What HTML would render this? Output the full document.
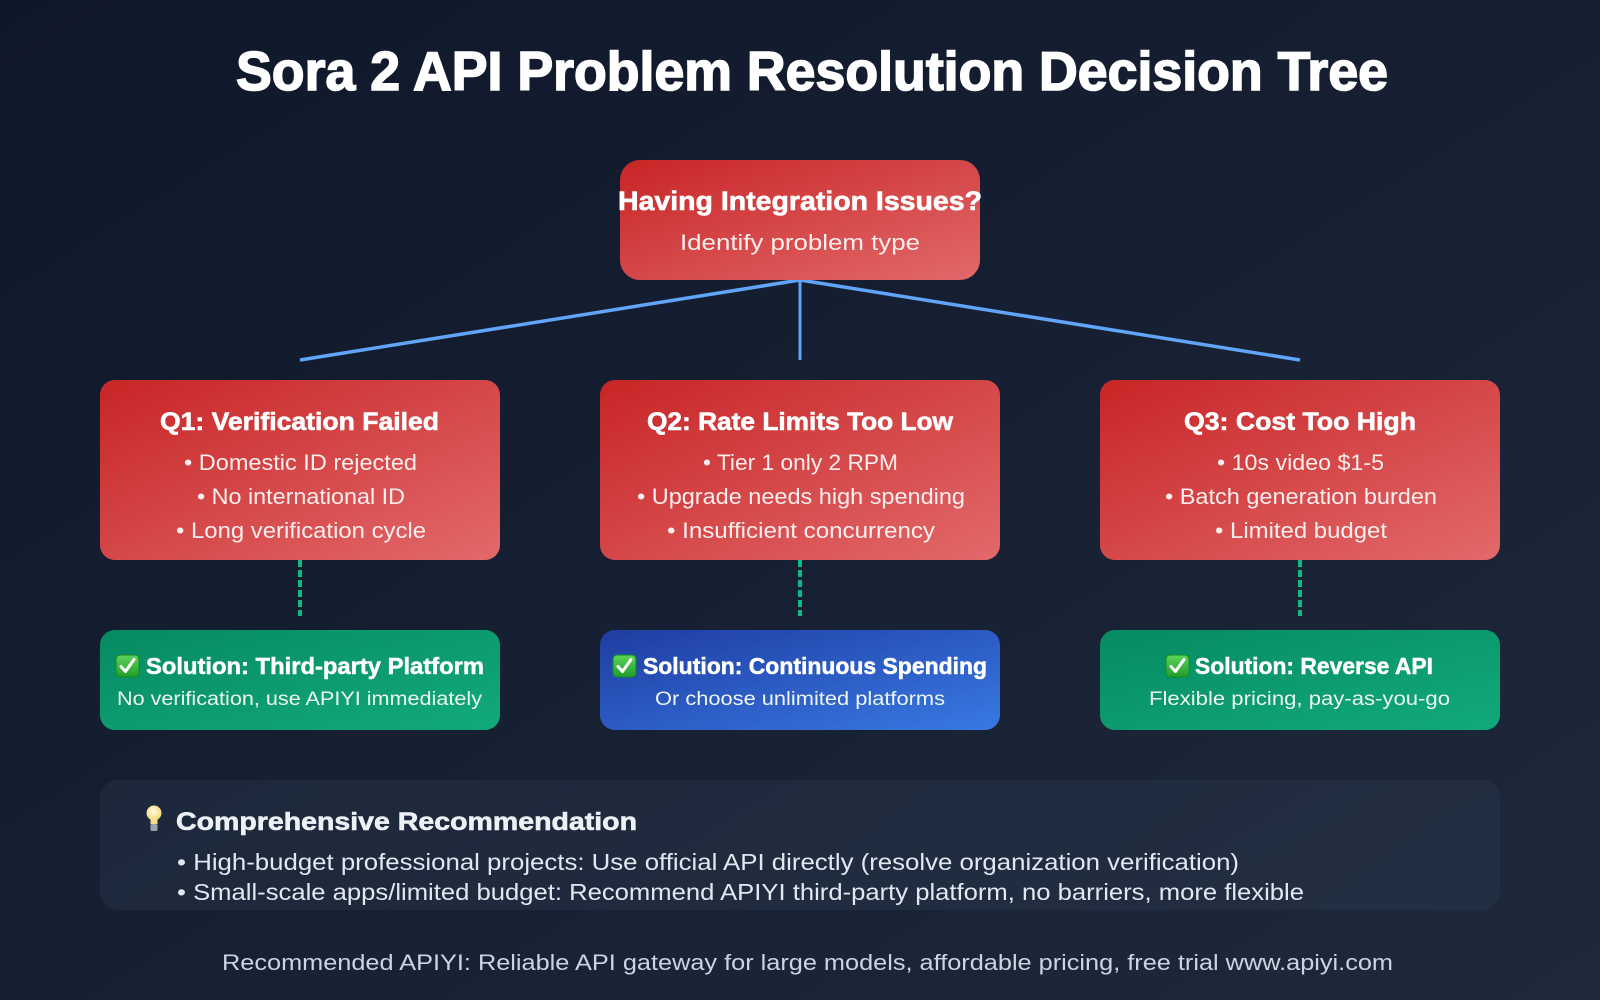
<!DOCTYPE html>
<html>
<head>
<meta charset="utf-8">
<style>
  html,body{margin:0;padding:0;background:#0f172a;}
  body{width:1600px;height:1000px;overflow:hidden;}
  svg{display:block;}
  text{font-family:"Liberation Sans","DejaVu Sans",sans-serif;}
</style>
</head>
<body>
<svg width="1600" height="1000" viewBox="0 0 1600 1000" xmlns="http://www.w3.org/2000/svg">
  <defs>
    <linearGradient id="bg" x1="0" y1="0" x2="1" y2="1">
      <stop offset="0" stop-color="#0f172a"/>
      <stop offset="1" stop-color="#1e293b"/>
    </linearGradient>
    <linearGradient id="red" x1="0" y1="0" x2="1" y2="1">
      <stop offset="0" stop-color="#c82526"/>
      <stop offset="1" stop-color="#e2696a"/>
    </linearGradient>
    <linearGradient id="green" x1="0" y1="0" x2="1" y2="1">
      <stop offset="0" stop-color="#078a62"/>
      <stop offset="1" stop-color="#11aa7a"/>
    </linearGradient>
    <linearGradient id="blue" x1="0" y1="0" x2="1" y2="1">
      <stop offset="0" stop-color="#1f3da2"/>
      <stop offset="1" stop-color="#3879e3"/>
    </linearGradient>
    <linearGradient id="chk" x1="0" y1="0" x2="0" y2="1">
      <stop offset="0" stop-color="#5fd35a"/>
      <stop offset="1" stop-color="#1f9e2a"/>
    </linearGradient>
    <radialGradient id="bulb" cx="0.45" cy="0.4" r="0.6">
      <stop offset="0" stop-color="#fffbe0"/>
      <stop offset="1" stop-color="#f7d774"/>
    </radialGradient>
    <g id="check">
      <rect x="0" y="0" width="23" height="22" rx="4" fill="url(#chk)" stroke="#138a22" stroke-width="1"/>
      <path d="M5 11.5 L9.5 16.5 L18 4.5" fill="none" stroke="#ffffff" stroke-width="3" stroke-linecap="round" stroke-linejoin="round"/>
    </g>
  </defs>

  <rect x="0" y="0" width="1600" height="1000" fill="url(#bg)"/>

  <!-- Title -->
  <text x="236" y="90" font-size="55" font-weight="bold" fill="#ffffff" stroke="#ffffff" stroke-width="1.6" textLength="1152" lengthAdjust="spacingAndGlyphs">Sora 2 API Problem Resolution Decision Tree</text>

  <!-- Connectors -->
  <line x1="800" y1="280" x2="300" y2="360" stroke="#60a5fa" stroke-width="3.5"/>
  <line x1="800" y1="280" x2="1300" y2="360" stroke="#60a5fa" stroke-width="3.5"/>
  <line x1="800" y1="280" x2="800" y2="360" stroke="#60a5fa" stroke-width="3"/>

  <!-- Top node -->
  <rect x="620" y="160" width="360" height="120" rx="20" fill="url(#red)"/>
  <text x="618" y="210" font-size="27" font-weight="bold" fill="#ffffff" stroke="#ffffff" stroke-width="0.6" textLength="364" lengthAdjust="spacingAndGlyphs">Having Integration Issues?</text>
  <text x="680" y="250" font-size="22" fill="#fdeeee" textLength="240" lengthAdjust="spacingAndGlyphs">Identify problem type</text>

  <!-- Q boxes -->
  <rect x="100" y="380" width="400" height="180" rx="15" fill="url(#red)"/>
  <rect x="600" y="380" width="400" height="180" rx="15" fill="url(#red)"/>
  <rect x="1100" y="380" width="400" height="180" rx="15" fill="url(#red)"/>

  <g fill="#ffffff" stroke="#ffffff" stroke-width="0.6">
    <text x="160" y="430" font-size="25" font-weight="bold" textLength="279" lengthAdjust="spacingAndGlyphs">Q1: Verification Failed</text>
    <text x="647" y="430" font-size="25" font-weight="bold" textLength="306" lengthAdjust="spacingAndGlyphs">Q2: Rate Limits Too Low</text>
    <text x="1184" y="430" font-size="25" font-weight="bold" textLength="232" lengthAdjust="spacingAndGlyphs">Q3: Cost Too High</text>
  </g>
  <g fill="#fbeeee" font-size="22">
    <text x="184" y="470" textLength="233" lengthAdjust="spacingAndGlyphs">• Domestic ID rejected</text>
    <text x="197" y="504" textLength="208" lengthAdjust="spacingAndGlyphs">• No international ID</text>
    <text x="176" y="538" textLength="250" lengthAdjust="spacingAndGlyphs">• Long verification cycle</text>

    <text x="703" y="470" textLength="195" lengthAdjust="spacingAndGlyphs">• Tier 1 only 2 RPM</text>
    <text x="637" y="504" textLength="328" lengthAdjust="spacingAndGlyphs">• Upgrade needs high spending</text>
    <text x="667" y="538" textLength="268" lengthAdjust="spacingAndGlyphs">• Insufficient concurrency</text>

    <text x="1217" y="470" textLength="167" lengthAdjust="spacingAndGlyphs">• 10s video $1-5</text>
    <text x="1165" y="504" textLength="272" lengthAdjust="spacingAndGlyphs">• Batch generation burden</text>
    <text x="1215" y="538" textLength="172" lengthAdjust="spacingAndGlyphs">• Limited budget</text>
  </g>

  <!-- Dashed connectors -->
  <g stroke="#10b981" stroke-width="4" stroke-dasharray="7,3">
    <line x1="300" y1="560" x2="300" y2="616"/>
    <line x1="800" y1="560" x2="800" y2="616"/>
    <line x1="1300" y1="560" x2="1300" y2="616"/>
  </g>

  <!-- Solution boxes -->
  <rect x="100" y="630" width="400" height="100" rx="15" fill="url(#green)"/>
  <rect x="600" y="630" width="400" height="100" rx="15" fill="url(#blue)"/>
  <rect x="1100" y="630" width="400" height="100" rx="15" fill="url(#green)"/>

  <use href="#check" x="116" y="655"/>
  <use href="#check" x="613" y="655"/>
  <use href="#check" x="1166" y="655"/>

  <g fill="#ffffff" stroke="#ffffff" stroke-width="0.5" font-size="23" font-weight="bold">
    <text x="146" y="674" textLength="338" lengthAdjust="spacingAndGlyphs">Solution: Third-party Platform</text>
    <text x="643" y="674" textLength="344" lengthAdjust="spacingAndGlyphs">Solution: Continuous Spending</text>
    <text x="1195" y="674" textLength="238" lengthAdjust="spacingAndGlyphs">Solution: Reverse API</text>
  </g>
  <g fill="#eef6f2" font-size="19">
    <text x="117" y="705" textLength="365" lengthAdjust="spacingAndGlyphs">No verification, use APIYI immediately</text>
    <text x="655" y="705" textLength="290" lengthAdjust="spacingAndGlyphs">Or choose unlimited platforms</text>
    <text x="1149" y="705" textLength="301" lengthAdjust="spacingAndGlyphs">Flexible pricing, pay-as-you-go</text>
  </g>

  <!-- Recommendation -->
  <rect x="100" y="780" width="1400" height="130" rx="18" fill="#334155" fill-opacity="0.28"/>
  <g>
    <circle cx="154" cy="813" r="7.5" fill="url(#bulb)"/>
    <rect x="150.5" y="819" width="7" height="5" fill="#f3dc8a"/>
    <rect x="150.5" y="824" width="7" height="7" rx="1.5" fill="#9aa3ad"/>
  </g>
  <text x="176" y="830" font-size="25" font-weight="bold" fill="#eef2f7" stroke="#eef2f7" stroke-width="0.6" textLength="461" lengthAdjust="spacingAndGlyphs">Comprehensive Recommendation</text>
  <g fill="#e2e8f0" font-size="23">
    <text x="177" y="870" textLength="1062" lengthAdjust="spacingAndGlyphs">• High-budget professional projects: Use official API directly (resolve organization verification)</text>
    <text x="177" y="900" textLength="1127" lengthAdjust="spacingAndGlyphs">• Small-scale apps/limited budget: Recommend APIYI third-party platform, no barriers, more flexible</text>
  </g>

  <!-- Footer -->
  <text x="222" y="970" font-size="22" fill="#cbd5e1" textLength="1171" lengthAdjust="spacingAndGlyphs">Recommended APIYI: Reliable API gateway for large models, affordable pricing, free trial www.apiyi.com</text>
</svg>
</body>
</html>
